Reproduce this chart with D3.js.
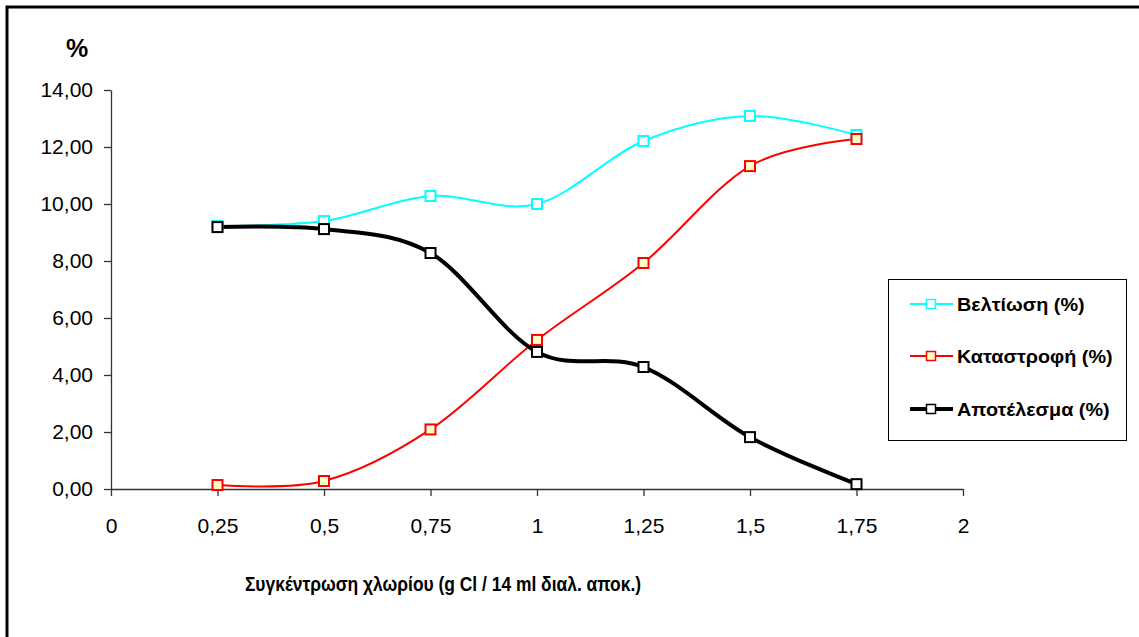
<!DOCTYPE html>
<html>
<head>
<meta charset="utf-8">
<script src="https://cdn.jsdelivr.net/npm/d3@7"></script>
<style>
  html, body { margin: 0; padding: 0; background: #fff; }
  svg { display: block; }
  text { font-family: "Liberation Sans", Arial, sans-serif; }
</style>
</head>
<body>
<svg id="chart" width="1139" height="637"></svg>
<script>
// Chlorine concentration (g Cl / 14 ml solution)
const concentrations = [0.25, 0.5, 0.75, 1, 1.25, 1.5, 1.75];

// Percent values for each series
const improvement = [9.23, 9.40, 10.28, 10.00, 12.21, 13.09, 12.42];
const destruction = [0.14, 0.28, 2.09, 5.23, 7.93, 11.33, 12.28];
const result      = [9.19, 9.12, 8.28, 4.81, 4.28, 1.82, 0.17];

const seriesNames = ["Βελτίωση (%)", "Καταστροφή (%)", "Αποτέλεσμα (%)"];

const xTicks = [0, 0.25, 0.5, 0.75, 1, 1.25, 1.5, 1.75, 2];
const yTicks = [0, 2, 4, 6, 8, 10, 12, 14];

const series = [
  { name: seriesNames[0], values: improvement, color: "#00ffff", width: 2, fill: "#ffffff" },
  { name: seriesNames[1], values: destruction, color: "#ff0000", width: 2, fill: "#ffffcc" },
  { name: seriesNames[2], values: result,      color: "#000000", width: 4, fill: "#ffffff" }
];

const svg = d3.select("#chart");

// Outer frame
svg.append("rect")
  .attr("x", 7).attr("y", 7)
  .attr("width", 1140).attr("height", 640)
  .attr("fill", "none").attr("stroke", "#000").attr("stroke-width", 3);

const x = d3.scaleLinear().domain([0, 2]).range([111, 963]);
const y = d3.scaleLinear().domain([0, 14]).range([489, 90]);

const fmtY = d => d3.format(".2f")(d).replace(".", ",");
const fmtX = d => String(d).replace(".", ",");

// Y axis
const yAxis = svg.append("g")
  .attr("transform", `translate(${x(0)},0)`)
  .call(d3.axisLeft(y).tickValues(yTicks).tickFormat(fmtY).tickSize(7).tickPadding(11).tickSizeOuter(0));
yAxis.selectAll("text").attr("font-size", 21).attr("fill", "#000");

// X axis
const xAxis = svg.append("g")
  .attr("transform", `translate(0,${y(0)})`)
  .call(d3.axisBottom(x).tickValues(xTicks).tickFormat(fmtX).tickSize(7).tickPadding(22).tickSizeOuter(0));
xAxis.selectAll("text").attr("font-size", 21).attr("fill", "#000");

[yAxis, xAxis].forEach(a => {
  a.select(".domain").attr("stroke", "#333").attr("stroke-width", 1.3);
  a.selectAll(".tick line").attr("stroke", "#333").attr("stroke-width", 1.3);
});

// Axis titles
svg.append("text")
  .attr("x", 77).attr("y", 57)
  .attr("text-anchor", "middle")
  .attr("font-size", 25).attr("font-weight", "bold")
  .text("%");

svg.append("text")
  .attr("transform", "translate(443,591) scale(0.83,1)")
  .attr("text-anchor", "middle")
  .attr("font-size", 21).attr("font-weight", "bold")
  .text("Συγκέντρωση χλωρίου (g Cl / 14 ml διαλ. αποκ.)");

// Smoothed lines
const line = d3.line()
  .x((d, i) => x(concentrations[i]))
  .y(d => y(d))
  .curve(d3.curveCardinal.tension(0));

const plot = svg.append("g");
series.forEach(s => {
  plot.append("path")
    .datum(s.values)
    .attr("d", line)
    .attr("fill", "none")
    .attr("stroke", s.color)
    .attr("stroke-width", s.width)
    .attr("stroke-linejoin", "round");
});

const ms = 10;
series.forEach(s => {
  plot.selectAll(null)
    .data(s.values)
    .enter().append("rect")
    .attr("x", (d, i) => x(concentrations[i]) - ms / 2)
    .attr("y", d => y(d) - ms / 2)
    .attr("width", ms).attr("height", ms)
    .attr("fill", s.fill)
    .attr("stroke", s.color)
    .attr("stroke-width", 2);
});

// Legend
const legend = svg.append("g");
legend.append("rect")
  .attr("x", 888.5).attr("y", 279.5)
  .attr("width", 238).attr("height", 161)
  .attr("fill", "#fff").attr("stroke", "#000").attr("stroke-width", 1);

const legendY = [304, 356, 409];
series.forEach((s, i) => {
  const ly = legendY[i];
  legend.append("line")
    .attr("x1", 910).attr("x2", 953)
    .attr("y1", ly).attr("y2", ly)
    .attr("stroke", s.color).attr("stroke-width", s.width);
  legend.append("rect")
    .attr("x", 931 - 4.5).attr("y", ly - 4.5)
    .attr("width", 9).attr("height", 9)
    .attr("fill", s.fill).attr("stroke", s.color).attr("stroke-width", 1.5);
  legend.append("text")
    .attr("transform", `translate(957,${ly + 7}) scale(1.1,1)`)
    .attr("font-size", 18).attr("font-weight", "bold")
    .text(s.name);
});
</script>
</body>
</html>
